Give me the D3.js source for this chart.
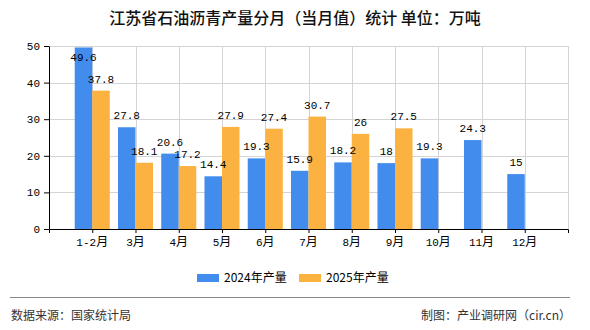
<!DOCTYPE html>
<html><head><meta charset="utf-8">
<script src="https://cdn.jsdelivr.net/npm/d3@7/dist/d3.min.js"></script>
<style>
body{margin:0;background:#fff;}
svg{display:block;}
</style></head>
<body><svg id="c" width="590" height="330"></svg>
<script>
const categories = ["1-2月","3月","4月","5月","6月","7月","8月","9月","10月","11月","12月"];
const series2024 = [49.6,27.8,20.6,14.4,19.3,15.9,18.2,18,19.3,24.3,15];
const series2025 = [37.8,18.1,17.2,27.9,27.4,30.7,26,27.5,null,null,null];
const seriesNames = ["2024年产量","2025年产量"];
const yTicks = [0,10,20,30,40,50];
const titleText = "江苏省石油沥青产量分月（当月值）统计  单位：万吨";
const sourceText = "数据来源：国家统计局";
const creditText = "制图：产业调研网（cir.cn）";

const colors = ["#428cee","#fcb240"];
const numFont = "'Liberation Mono','DejaVu Sans Mono',monospace";
const cjkFont = "'Noto Sans CJK SC','Noto Sans',sans-serif";

const svg = d3.select("#c");
const L = 49, R = 568, T = 46, B = 229;

const x = d3.scalePoint().domain(categories).range([L, R]).padding(1);
const y = d3.scaleLinear().domain([0, 50]).range([B, T]);
const step = x.step();
const bw = step * 0.405;

// grid
const g = svg.append("g");
g.selectAll(".hg").data(yTicks.filter(d => d > 0)).join("line")
  .attr("x1", L).attr("x2", R)
  .attr("y1", d => Math.round(y(d)) + 0.5).attr("y2", d => Math.round(y(d)) + 0.5)
  .attr("stroke", "#d4d4d4").attr("stroke-width", 1);
const vPos = categories.map(c => x(c)).concat([R]);
g.selectAll(".vg").data(vPos).join("line")
  .attr("x1", d => Math.round(d) + 0.5).attr("x2", d => Math.round(d) + 0.5)
  .attr("y1", T).attr("y2", B)
  .attr("stroke", "#d4d4d4").attr("stroke-width", 1);

// bars
const bars = svg.append("g");
categories.forEach((c, i) => {
  [series2024[i], series2025[i]].forEach((v, s) => {
    if (v == null) return;
    const x0 = s === 0 ? x(c) - bw : x(c);
    bars.append("rect")
      .attr("x", x0).attr("width", bw)
      .attr("y", y(v)).attr("height", y(0) - y(v))
      .attr("fill", colors[s]);
  });
});

// axes
const xAxis = d3.axisBottom(x).tickSize(4).tickSizeOuter(4).tickFormat("");
const xa = svg.append("g").attr("transform", `translate(0,${B})`).call(xAxis);
xa.selectAll("path,line").attr("stroke", "#000");
const yAxis = d3.axisLeft(y).tickValues(yTicks).tickSize(5).tickSizeOuter(0).tickFormat("");
const ya = svg.append("g").attr("transform", `translate(${L},0)`).call(yAxis);
ya.selectAll("path,line").attr("stroke", "#000");

// y labels
svg.append("g").selectAll("text").data(yTicks).join("text")
  .attr("x", 40).attr("y", d => y(d) + 4)
  .attr("text-anchor", "end")
  .attr("font-family", numFont).attr("font-size", 11).attr("fill", "#000")
  .text(d => d);

// x labels
const xl = svg.append("g").selectAll("text").data(categories).join("text")
  .attr("x", d => x(d)).attr("y", B + 17)
  .attr("text-anchor", "middle").attr("fill", "#000");
xl.each(function(d) {
  const t = d3.select(this);
  const num = d.replace("月", "");
  t.append("tspan").attr("font-family", numFont).attr("font-size", 11).text(num);
  t.append("tspan").attr("font-family", cjkFont).attr("font-size", 12).text("月");
});

// value labels
const lab = svg.append("g");
categories.forEach((c, i) => {
  [series2024[i], series2025[i]].forEach((v, s) => {
    if (v == null) return;
    const cx = s === 0 ? x(c) - bw / 2 : x(c) + bw / 2;
    const by = Math.max(y(v) - 8, T + 15);
    lab.append("text").attr("x", cx).attr("y", by)
      .attr("text-anchor", "middle")
      .attr("font-family", numFont).attr("font-size", 11).attr("fill", "#000")
      .text(v);
  });
});

// title
svg.append("text").attr("x", 295).attr("y", 24)
  .attr("text-anchor", "middle")
  .attr("font-family", cjkFont).attr("font-size", 16).attr("font-weight", 500)
  .attr("fill", "#111")
  .text(titleText);

// legend
const legX = [197, 299];
seriesNames.forEach((n, s) => {
  svg.append("rect").attr("x", legX[s]).attr("y", 274).attr("width", 22).attr("height", 8).attr("fill", colors[s]);
  svg.append("text").attr("x", legX[s] + 27).attr("y", 282)
    .attr("font-family", cjkFont).attr("font-size", 12).attr("fill", "#000")
    .text(n);
});

// footer
svg.append("line").attr("x1", 10).attr("x2", 570).attr("y1", 297.5).attr("y2", 297.5)
  .attr("stroke", "#888").attr("stroke-width", 1);
svg.append("text").attr("x", 11).attr("y", 320)
  .attr("font-family", cjkFont).attr("font-size", 12).attr("fill", "#333")
  .text(sourceText);
svg.append("text").attr("x", 571).attr("y", 320).attr("text-anchor", "end")
  .attr("font-family", cjkFont).attr("font-size", 12).attr("fill", "#333")
  .text(creditText);
</script></body></html>
